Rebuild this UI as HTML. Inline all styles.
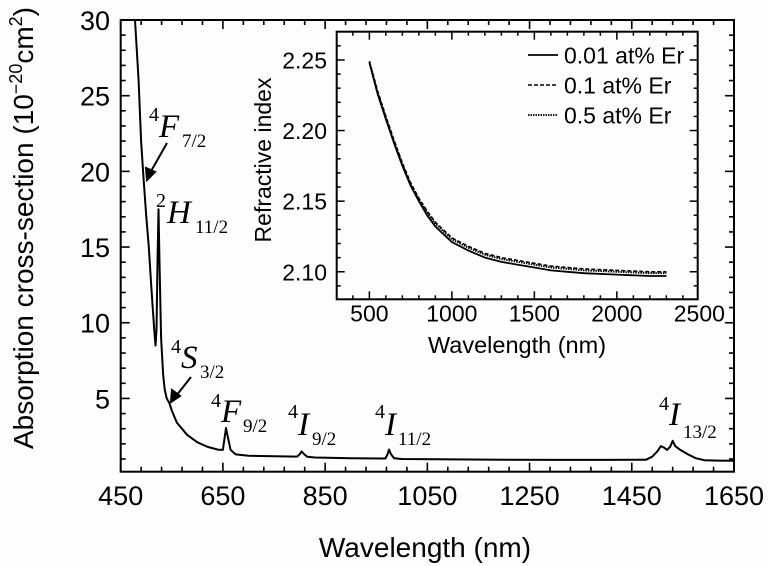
<!DOCTYPE html>
<html><head><meta charset="utf-8"><style>
html,body{margin:0;padding:0;background:#fdfdfd;}
svg{display:block;font-family:"Liberation Sans",Arial,sans-serif;}
</style></head><body>
<svg id="chart" width="768" height="566" viewBox="0 0 768 566"></svg>
<script>
// Main spectrum data
const wavelengths = [474,478,485,490,495,500,505,509,513,516,518,520,522,524,526,529,533,536,540,545,550,560,580,600,620,640,650,653,656,660,665,675,700,750,795,800,804,808,815,830,900,968,972,975,979,985,1000,1100,1200,1300,1400,1478,1490,1500,1507,1513,1519,1525,1530,1535,1545,1560,1575,1592,1620,1650];
const sigma =       [31.5,30,26,22,19.4,17,15,12.8,10.8,9.4,8.5,9.5,14,17.5,14,9,6.6,5.6,5.0,4.7,4.2,3.4,2.6,2.1,1.8,1.62,1.6,2.3,3.05,2.4,1.6,1.3,1.22,1.18,1.16,1.3,1.5,1.35,1.15,1.1,1.05,1.03,1.3,1.62,1.3,1.05,1.0,0.97,0.95,0.94,0.94,0.95,1.15,1.5,1.85,1.75,1.6,1.8,2.2,1.85,1.6,1.3,1.05,0.92,0.89,0.88];
const xTicks = [450,650,850,1050,1250,1450,1650];
const yTicks = [5,10,15,20,25,30];
// Inset data
const insetWl = [500,550,600,650,700,750,800,850,900,1000,1100,1200,1300,1400,1500,1600,1700,1800,2000,2100,2200,2300];
const n001 = [2.248,2.226,2.208,2.191,2.175,2.161,2.150,2.140,2.132,2.121,2.115,2.110,2.107,2.105,2.103,2.101,2.100,2.099,2.098,2.0975,2.097,2.097];
const n01  = [2.249,2.228,2.210,2.193,2.177,2.163,2.152,2.143,2.135,2.124,2.118,2.113,2.110,2.108,2.106,2.104,2.103,2.102,2.101,2.1005,2.100,2.100];
const n05  = [2.249,2.227,2.209,2.192,2.176,2.162,2.151,2.142,2.134,2.123,2.117,2.112,2.109,2.107,2.105,2.103,2.102,2.101,2.100,2.0995,2.099,2.099];
const insetXTicks = [500,1000,1500,2000,2500];
const insetYTicks = ["2.10","2.15","2.20","2.25"];
const legendLabels = ["0.01 at% Er","0.1 at% Er","0.5 at% Er"];

const NS="http://www.w3.org/2000/svg";
const svg=document.getElementById('chart');
function mk(tag,attrs,parent){const e=document.createElementNS(NS,tag);for(const k in attrs)e.setAttribute(k,attrs[k]);(parent||svg).appendChild(e);return e;}

const L=120.7,R=734,T=20,B=471.7,X0=450,X1=1650,Y0=0.16,Y1=30;
const sx=v=>L+(v-X0)/(X1-X0)*(R-L);
const sy=v=>B-(v-Y0)/(Y1-Y0)*(B-T);
const mainG=mk('g',{});


const frame=mk('rect',{x:L,y:T,width:R-L,height:B-T,fill:'none',stroke:'#000','stroke-width':2},mainG);


for(let v=X0;v<=X1+0.1;v+=40){const maj=((v-X0)%200)===0;const len=maj?9:5;const x=sx(v);
 mk('line',{x1:x,y1:B,x2:x,y2:B-len,stroke:'#000','stroke-width':1.6},mainG);
 mk('line',{x1:x,y1:T,x2:x,y2:T+len,stroke:'#000','stroke-width':1.6},mainG);}
xTicks.forEach(v=>{const t=mk('text',{x:sx(v),y:505,'font-size':27,'text-anchor':'middle'},mainG);t.textContent=v;
 
 });
for(let v=1;v<=30;v++){const maj=v%5===0;const len=maj?9:5;const y=sy(v);
 mk('line',{x1:L,y1:y,x2:L+len,y2:y,stroke:'#000','stroke-width':1.6},mainG);
 mk('line',{x1:R,y1:y,x2:R-len,y2:y,stroke:'#000','stroke-width':1.6},mainG);}
yTicks.forEach(v=>{const t=mk('text',{x:110,y:sy(v)+10,'font-size':27,'text-anchor':'end'},mainG);t.textContent=v;
 
 });
const cp=mk('clipPath',{id:'mc'});mk('rect',{x:L,y:T,width:R-L,height:B-T},cp);
const path=mk('path',{d:wavelengths.map((w,i)=>(i?'L':'M')+sx(w).toFixed(1)+','+sy(sigma[i]).toFixed(1)).join(''),fill:'none',stroke:'#000','stroke-width':2,'stroke-linejoin':'round','clip-path':'url(#mc)'},mainG);


</script>

<svg width="768" height="566" style="position:absolute;left:0;top:0;">
 <text x="425" y="557" font-size="28" text-anchor="middle" font-family="Liberation Sans, sans-serif">Wavelength (nm)</text>
 <text transform="translate(33,228) rotate(-90)" font-size="28" text-anchor="middle" font-family="Liberation Sans, sans-serif">Absorption cross-section (10<tspan dy="-11" font-size="18">−20</tspan><tspan dy="11">cm</tspan><tspan dy="-11" font-size="18">2</tspan><tspan dy="11">)</tspan></text>
 <g font-family="Liberation Serif, serif">
  <g><text x="149" y="121" font-size="20">4</text><text x="159" y="137" font-size="33" font-style="italic">F</text><text x="182" y="147" font-size="19">7/2</text></g>
  <g><text x="156" y="207" font-size="20">2</text><text x="167" y="223" font-size="33" font-style="italic">H</text><text x="195" y="233" font-size="19">11/2</text></g>
  <g><text x="171" y="353" font-size="20">4</text><text x="181" y="368" font-size="33" font-style="italic">S</text><text x="200" y="378" font-size="19">3/2</text></g>
  <g><text x="211" y="407" font-size="20">4</text><text x="221" y="422" font-size="33" font-style="italic">F</text><text x="243" y="432" font-size="19">9/2</text></g>
  <g><text x="288" y="418" font-size="20">4</text><text x="298" y="435" font-size="33" font-style="italic">I</text><text x="312" y="445" font-size="19">9/2</text></g>
  <g><text x="375" y="418" font-size="20">4</text><text x="385" y="435" font-size="33" font-style="italic">I</text><text x="398" y="445" font-size="19">11/2</text></g>
  <g><text x="659" y="410" font-size="20">4</text><text x="669" y="425" font-size="33" font-style="italic">I</text><text x="683" y="438" font-size="19">13/2</text></g>
 </g>
 <g stroke="#000" stroke-width="2" fill="#000">
  <line x1="167" y1="143" x2="150" y2="173"/><polygon points="147,180 146,168 155,172" />
  <line x1="191" y1="377" x2="176" y2="396"/><polygon points="171,402 172,390 180,396" />
 </g>
</svg>

<svg id="inset" width="768" height="566" style="position:absolute;left:0;top:0;"></svg>
<script>
const iS=document.getElementById('inset');
function mi(tag,attrs,parent){const e=document.createElementNS(NS,tag);for(const k in attrs)e.setAttribute(k,attrs[k]);(parent||iS).appendChild(e);return e;}
const iL=336.7,iR=697.7,iT=31.7,iB=299.3,iX0=302,iX1=2490,iY0=2.0805,iY1=2.27;
const ix=v=>iL+(v-iX0)/(iX1-iX0)*(iR-iL);
const iy=v=>iB-(v-iY0)/(iY1-iY0)*(iB-iT);
const bg=mi('rect',{x:iL,y:iT,width:iR-iL,height:iB-iT,fill:'#fdfdfd',stroke:'#000','stroke-width':2});


for(let v=400;v<=2400;v+=100){const maj=v%500===0;const len=maj?8:4;const x=ix(v);
 mi('line',{x1:x,y1:iB,x2:x,y2:iB-len,stroke:'#000','stroke-width':1.5});
 mi('line',{x1:x,y1:iT,x2:x,y2:iT+len,stroke:'#000','stroke-width':1.5});}
insetXTicks.forEach(v=>{const t=mi('text',{x:ix(v),y:321.7,'font-size':23,'text-anchor':'middle'});t.textContent=v;
 
 });
for(let k=209;k<=226;k++){const v=k/100;const maj=k%5===0;const len=maj?8:4;const y=iy(v);
 mi('line',{x1:iL,y1:y,x2:iL+len,y2:y,stroke:'#000','stroke-width':1.5});
 mi('line',{x1:iR,y1:y,x2:iR-len,y2:y,stroke:'#000','stroke-width':1.5});}
insetYTicks.forEach(s=>{const t=mi('text',{x:327,y:iy(parseFloat(s))+8.5,'font-size':23,'text-anchor':'end'});t.textContent=s;
 
 });
const ixt=mi('text',{x:517,y:353,'font-size':23.5,'text-anchor':'middle'});ixt.textContent='Wavelength (nm)';


const iyt=mi('text',{transform:'translate(271,160) rotate(-90)','font-size':23,'text-anchor':'middle'});iyt.textContent='Refractive index';


const series=[[n001,'none',1.8],[n01,'4,2',1.6],[n05,'1.5,1',1.8]];
const snames=['series-0.01-er','series-0.1-er','series-0.5-er'];
series.forEach((s,j)=>{const p=mi('path',{d:insetWl.map((w,i)=>(i?'L':'M')+ix(w).toFixed(1)+','+iy(s[0][i]).toFixed(1)).join(''),fill:'none',stroke:'#000','stroke-width':s[2],'stroke-dasharray':s[1],'stroke-linejoin':'round'});
 
 
 const ly=55+j*30;
 mi('line',{x1:528,y1:ly,x2:558,y2:ly,stroke:'#000','stroke-width':s[2],'stroke-dasharray':s[1]});
 const t=mi('text',{x:564,y:ly+8.5,'font-size':23});t.textContent=legendLabels[j];
 
 });
</script>
</body></html>
